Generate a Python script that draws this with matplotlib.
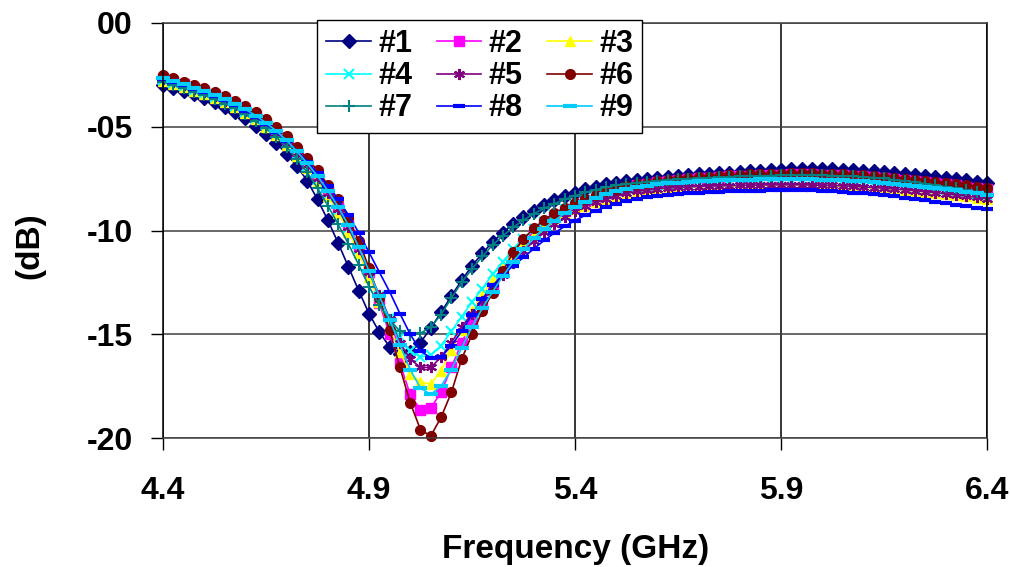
import matplotlib
matplotlib.use('Agg')
import matplotlib.pyplot as plt
import numpy as np

# measured return loss of nine samples, 4.4-6.4 GHz in 25 MHz steps
freq = np.linspace(4.4, 6.4, 81)

s1 = [-3.00, -3.12, -3.26, -3.42, -3.60, -3.80, -4.03, -4.30, -4.60, -4.95, -5.35, -5.80, -6.30, -6.90, -7.60, -8.50, -9.50,
      -10.60, -11.75, -12.90, -14.00, -14.90, -15.60, -15.95, -15.85, -15.40, -14.70, -13.95, -13.15, -12.40, -11.70, -11.10, -10.55,
      -10.10, -9.70, -9.35, -9.05, -8.78, -8.55, -8.35, -8.17,
      -8.00, -7.88, -7.78, -7.69, -7.62, -7.55, -7.50, -7.45, -7.41, -7.37, -7.33, -7.30, -7.27, -7.24, -7.21, -7.18, -7.15, -7.12,
      -7.10, -7.08, -7.06, -7.05, -7.04, -7.04, -7.05, -7.07, -7.09, -7.12, -7.15, -7.19, -7.23, -7.27, -7.32, -7.37, -7.42, -7.47,
      -7.52, -7.58, -7.64, -7.70]
s2 = [-2.65, -2.80, -2.96, -3.12, -3.29, -3.47, -3.68, -3.91, -4.18, -4.48, -4.84, -5.22, -5.70, -6.22, -6.80, -7.40, -8.10,
      -8.85, -9.70, -10.75, -12.00, -13.50, -15.00, -16.40, -17.90, -18.65, -18.55, -17.80, -16.60, -15.40, -14.40, -13.50, -12.70,
      -11.95, -11.25, -10.65, -10.15, -9.72, -9.36, -9.06, -8.80,
      -8.57, -8.37, -8.20, -8.05, -7.93, -7.83, -7.75, -7.68, -7.62, -7.57, -7.52, -7.48, -7.45, -7.42, -7.39, -7.37, -7.35, -7.33,
      -7.32, -7.31, -7.30, -7.30, -7.30, -7.31, -7.32, -7.34, -7.36, -7.39, -7.42, -7.46, -7.50, -7.55, -7.60, -7.65, -7.70, -7.76,
      -7.82, -7.88, -7.94, -8.00]
s3 = [-2.80, -2.95, -3.10, -3.26, -3.43, -3.62, -3.83, -4.07, -4.34, -4.65, -5.00, -5.40, -5.88, -6.40, -6.98, -7.62, -8.35,
      -9.15, -10.05, -11.10, -12.25, -13.45, -14.65, -15.85, -16.90, -17.30, -17.40, -16.75, -15.75, -14.80, -13.90, -13.10, -12.40,
      -11.75, -11.15, -10.65, -10.20, -9.82, -9.50, -9.22, -8.98,
      -8.80, -8.62, -8.47, -8.35, -8.25, -8.16, -8.09, -8.03, -7.99, -7.95, -7.92, -7.90, -7.88, -7.86, -7.85, -7.84, -7.83, -7.82,
      -7.82, -7.82, -7.82, -7.82, -7.83, -7.84, -7.85, -7.87, -7.89, -7.92, -7.95, -7.98, -8.02, -8.06, -8.10, -8.15, -8.20, -8.25,
      -8.30, -8.36, -8.42, -8.48]
s4 = [-2.75, -2.90, -3.05, -3.21, -3.38, -3.57, -3.78, -4.02, -4.28, -4.58, -4.93, -5.32, -5.78, -6.30, -6.88, -7.52, -8.25,
      -9.00, -9.90, -10.90, -12.00, -13.15, -14.20, -15.15, -15.80, -16.10, -16.00, -15.55, -14.85, -14.15, -13.45, -12.80, -12.10,
      -11.50, -10.90, -10.40, -9.95, -9.58, -9.26, -8.98, -8.75,
      -8.55, -8.38, -8.24, -8.12, -8.02, -7.94, -7.87, -7.81, -7.76, -7.72, -7.69, -7.66, -7.64, -7.62, -7.60, -7.59, -7.58, -7.57,
      -7.56, -7.56, -7.56, -7.56, -7.57, -7.58, -7.59, -7.61, -7.63, -7.66, -7.69, -7.73, -7.77, -7.82, -7.87, -7.92, -7.97, -8.03,
      -8.09, -8.15, -8.22, -8.30]
s5 = [-2.70, -2.85, -3.01, -3.17, -3.34, -3.53, -3.74, -3.97, -4.24, -4.54, -4.90, -5.28, -5.75, -6.27, -6.85, -7.48, -8.20,
      -8.95, -9.85, -10.90, -12.00, -13.10, -14.25, -15.40, -16.20, -16.60, -16.60, -16.10, -15.40, -14.65, -14.00, -13.40, -12.75,
      -12.15, -11.55, -11.00, -10.50, -10.05, -9.68, -9.36, -9.08,
      -8.84, -8.63, -8.46, -8.32, -8.21, -8.12, -8.05, -7.99, -7.95, -7.92, -7.90, -7.88, -7.86, -7.85, -7.84, -7.83, -7.82, -7.81,
      -7.80, -7.80, -7.80, -7.80, -7.81, -7.82, -7.83, -7.85, -7.87, -7.90, -7.93, -7.96, -8.00, -8.04, -8.08, -8.13, -8.18, -8.23,
      -8.28, -8.34, -8.40, -8.46]
s6 = [-2.50, -2.67, -2.84, -2.99, -3.15, -3.32, -3.52, -3.74, -4.00, -4.29, -4.64, -5.00, -5.46, -5.98, -6.52, -7.10, -7.80,
      -8.50, -9.40, -10.50, -11.80, -13.25, -14.80, -16.60, -18.30, -19.60, -19.90, -19.00, -17.80, -16.20, -15.00, -13.90, -13.00,
      -11.95, -11.05, -10.40, -9.90, -9.50, -9.17, -8.90, -8.68,
      -8.47, -8.28, -8.12, -7.98, -7.87, -7.78, -7.70, -7.63, -7.57, -7.52, -7.47, -7.43, -7.40, -7.37, -7.34, -7.32, -7.30, -7.28,
      -7.27, -7.26, -7.25, -7.25, -7.25, -7.26, -7.27, -7.29, -7.31, -7.34, -7.37, -7.41, -7.45, -7.50, -7.55, -7.60, -7.65, -7.71,
      -7.77, -7.83, -7.89, -7.95]
s7 = [-2.85, -3.00, -3.15, -3.31, -3.48, -3.67, -3.88, -4.12, -4.40, -4.72, -5.08, -5.50, -5.98, -6.55, -7.20, -7.95, -8.80,
      -9.70, -10.65, -11.65, -12.70, -13.60, -14.30, -14.85, -15.05, -14.95, -14.65, -14.05, -13.25, -12.50, -11.85, -11.25, -10.70,
      -10.25, -9.85, -9.50, -9.20, -8.93, -8.70, -8.50, -8.32,
      -8.16, -8.03, -7.92, -7.83, -7.76, -7.70, -7.65, -7.60, -7.56, -7.53, -7.50, -7.47, -7.45, -7.43, -7.41, -7.39, -7.37, -7.36,
      -7.35, -7.34, -7.33, -7.33, -7.33, -7.34, -7.35, -7.37, -7.39, -7.42, -7.45, -7.49, -7.55, -7.61, -7.67, -7.74, -7.81, -7.89,
      -7.97, -8.05, -8.14, -8.23]
s8 = [-2.70, -2.85, -3.00, -3.16, -3.33, -3.52, -3.73, -3.96, -4.22, -4.52, -4.86, -5.24, -5.68, -6.15, -6.68, -7.22, -7.85,
      -8.50, -9.25, -10.10, -11.05, -12.00, -12.95, -14.00, -15.00, -15.80, -16.15, -16.10, -15.55, -14.85, -14.05, -13.30, -12.65,
      -12.15, -11.70, -11.30, -10.88, -10.48, -10.12, -9.80, -9.52,
      -9.27, -9.05, -8.86, -8.70, -8.57, -8.47, -8.39, -8.32, -8.27, -8.23, -8.20, -8.17, -8.15, -8.13, -8.11, -8.10, -8.09, -8.08,
      -8.07, -8.06, -8.06, -8.06, -8.07, -8.09, -8.11, -8.14, -8.17, -8.21, -8.25, -8.30, -8.36, -8.42, -8.48, -8.55, -8.62, -8.69,
      -8.76, -8.83, -8.90, -8.97]
s9 = [-2.65, -2.80, -2.95, -3.11, -3.28, -3.46, -3.67, -3.90, -4.16, -4.46, -4.81, -5.20, -5.66, -6.18, -6.76, -7.38, -8.08,
      -8.85, -9.75, -10.80, -11.95, -13.15, -14.30, -15.50, -16.70, -17.60, -17.90, -17.50, -16.70, -15.65, -14.65, -13.75, -12.95,
      -12.20, -11.50, -10.90, -10.38, -9.92, -9.52, -9.18, -8.88,
      -8.63, -8.42, -8.25, -8.11, -8.00, -7.91, -7.84, -7.78, -7.73, -7.69, -7.66, -7.63, -7.61, -7.59, -7.57, -7.56, -7.55, -7.54,
      -7.53, -7.53, -7.53, -7.53, -7.54, -7.55, -7.56, -7.58, -7.60, -7.63, -7.66, -7.70, -7.74, -7.79, -7.84, -7.89, -7.95, -8.01,
      -8.07, -8.13, -8.20, -8.27]

labels = ['#1', '#2', '#3', '#4', '#5', '#6', '#7', '#8', '#9']
series = [s1, s2, s3, s4, s5, s6, s7, s8, s9]
x_ticks = [4.4, 4.9, 5.4, 5.9, 6.4]
y_ticks = [0, -5, -10, -15, -20]
y_ticklabels = ['00', '-05', '-10', '-15', '-20']

# colour, marker, marker size, marker edge width
styles = [
    ('#000080', 'D', 7.0, 1.0),
    ('#FF00FF', 's', 6.5, 1.0),
    ('#FFFF00', '^', 7.5, 1.0),
    ('#00FFFF', 'x', 7.0, 1.5),
    ('#800080', (6, 2, 0), 8.0, 1.5),
    ('#800000', 'o', 7.0, 1.0),
    ('#008080', '+', 8.0, 1.5),
    ('#0000FF', '_', 8.5, 3.0),
    ('#00CCFF', '_', 9.5, 3.0),
]

plt.rcParams['font.family'] = ['Liberation Sans', 'DejaVu Sans']
plt.rcParams['font.weight'] = 'bold'

fig = plt.figure(figsize=(10.12, 5.67), dpi=100)
ax = fig.add_axes([163 / 1012, 1 - 438 / 567, 824 / 1012, 415 / 567])

lines = []
for vals, lab, (c, m, ms, mew) in zip(series, labels, styles):
    ln, = ax.plot(freq, vals, color=c, lw=1.2, marker=m, ms=ms, mew=mew,
                  mfc=c, mec=c, label=lab, clip_on=False)
    lines.append(ln)

ax.set_xlim(4.4, 6.4)
ax.set_ylim(-20, 0)
ax.set_xticks(x_ticks)
ax.set_xticklabels([f'{t:.1f}' for t in x_ticks])
ax.set_yticks(y_ticks)
ax.set_yticklabels(y_ticklabels)
ax.tick_params(direction='out', length=8.6, width=1.0, color='black', labelsize=23)
ax.tick_params(axis='x', pad=19)
ax.tick_params(axis='y', pad=13)

ax.grid(axis='x', color='black', lw=1.1)
ax.grid(axis='y', color='#404040', lw=1.1)
ax.set_axisbelow(True)
for side in ['left', 'right']:
    ax.spines[side].set_color('black')
    ax.spines[side].set_linewidth(1.1)
for side in ['top', 'bottom']:
    ax.spines[side].set_color('#404040')
    ax.spines[side].set_linewidth(1.1)

fig.text(576 / 1012, 1 - 558 / 567, 'Frequency (GHz)', ha='center', va='baseline',
         fontsize=24, fontweight='bold')
fig.text(30 / 1012, 1 - 246 / 567, '(dB)', ha='center', va='center', rotation=90,
         fontsize=24, fontweight='bold')

# legend is filled column-wise, so reorder to read #1 #2 #3 across the rows
order = [0, 3, 6, 1, 4, 7, 2, 5, 8]
leg = fig.legend([lines[i] for i in order], [labels[i] for i in order],
                 loc='upper left', bbox_to_anchor=(317 / 1012, 1 - 20 / 567),
                 bbox_transform=fig.transFigure, borderaxespad=0,
                 ncol=3, fontsize=22, handlelength=1.47, handletextpad=0.23,
                 columnspacing=0.8, labelspacing=0.07, borderpad=0.3,
                 fancybox=False, framealpha=1.0, edgecolor='black')
leg.get_frame().set_linewidth(1.0)

fig.savefig('out.png', dpi=100)
